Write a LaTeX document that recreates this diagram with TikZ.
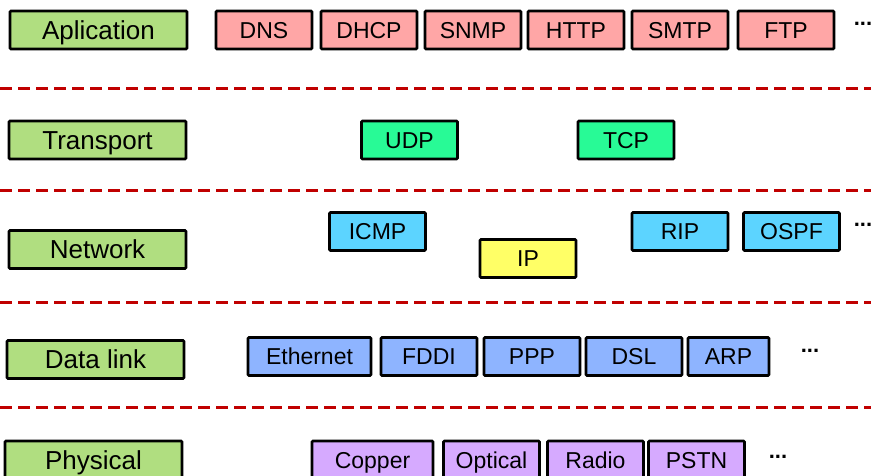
\documentclass[tikz,border=0pt]{standalone}
\usepackage{fontspec}
\setmainfont{Liberation Sans}
\usetikzlibrary{positioning}

\definecolor{layergreen}{RGB}{176,222,128}
\definecolor{apppink}{RGB}{255,166,166}
\definecolor{transgreen}{RGB}{40,250,150}
\definecolor{netcyan}{RGB}{92,212,255}
\definecolor{ipyellow}{RGB}{255,255,102}
\definecolor{linkblue}{RGB}{142,180,255}
\definecolor{physpurple}{RGB}{214,170,255}
\definecolor{sepred}{RGB}{192,0,0}

\begin{document}
\begin{tikzpicture}[x=1pt,y=-1pt,
  layerbox/.style={draw=black, line width=2.6pt, rounded corners=1pt, fill=layergreen,
    minimum width=177pt, minimum height=38pt, inner sep=0pt, text height=18.6pt, text depth=0pt,
    font=\fontsize{26}{30}\selectfont},
  protobox/.style={draw=black, line width=2.6pt, rounded corners=1pt, fill=#1,
    minimum width=96pt, minimum height=38pt, inner sep=0pt, text height=16.5pt, text depth=0pt,
    font=\fontsize{23}{27}\selectfont},
  moredots/.style={font=\fontsize{22}{26}\selectfont\bfseries, inner sep=0pt},
  sepline/.style={draw=sepred, line width=3pt, dash pattern=on 12pt off 6pt}]
\clip (0,0) rectangle (871,475);

% separators
\draw[sepline] (0,88) -- (871,88);
\draw[sepline] (0,190) -- (871,190);
\draw[sepline] (0,302) -- (871,302);
\draw[sepline] (0,407) -- (871,407);

% application
\node[layerbox] (app) at (98.5,30) {Aplication};
\node[protobox=apppink] (dns) at (264,30) {DNS};
\node[protobox=apppink] (dhcp) at (369,30) {DHCP};
\node[protobox=apppink] (snmp) at (473,30) {SNMP};
\node[protobox=apppink] (http) at (576,30) {HTTP};
\node[protobox=apppink] (smtp) at (680,30) {SMTP};
\node[protobox=apppink] (ftp) at (786,30) {FTP};
\node[moredots] (appmore) at (863,24) {...};

% transport
\node[layerbox] (trans) at (97.5,140) {Transport};
\node[protobox=transgreen] (udp) at (409.5,140) {UDP};
\node[protobox=transgreen] (tcp) at (626,140) {TCP};

% network
\node[layerbox] (net) at (97.5,249.5) {Network};
\node[protobox=netcyan] (icmp) at (377.5,231.5) {ICMP};
\node[protobox=ipyellow] (ip) at (528,258.5) {IP};
\node[protobox=netcyan] (rip) at (680,231.5) {RIP};
\node[protobox=netcyan] (ospf) at (791.5,231.5) {OSPF};
\node[moredots] (netmore) at (863,225) {...};

% data link
\node[layerbox] (link) at (95.5,359.5) {Data link};
\node[protobox=linkblue, minimum width=123pt] (eth) at (309.5,356.5) {Ethernet};
\node[protobox=linkblue] (fddi) at (429,356.5) {FDDI};
\node[protobox=linkblue] (ppp) at (532,356.5) {PPP};
\node[protobox=linkblue] (dsl) at (634,356.5) {DSL};
\node[protobox=linkblue, minimum width=81pt] (arp) at (728.5,356.5) {ARP};
\node[moredots] (linkmore) at (810,351) {...};

% physical
\node[layerbox] (phys) at (93.5,460) {Physical};
\node[protobox=physpurple, minimum width=121pt] (copper) at (372.5,460) {Copper};
\node[protobox=physpurple] (optical) at (491.5,460) {Optical};
\node[protobox=physpurple] (radio) at (595.5,460) {Radio};
\node[protobox=physpurple] (pstn) at (696.5,460) {PSTN};
\node[moredots] (physmore) at (778,457) {...};
\end{tikzpicture}
\end{document}
